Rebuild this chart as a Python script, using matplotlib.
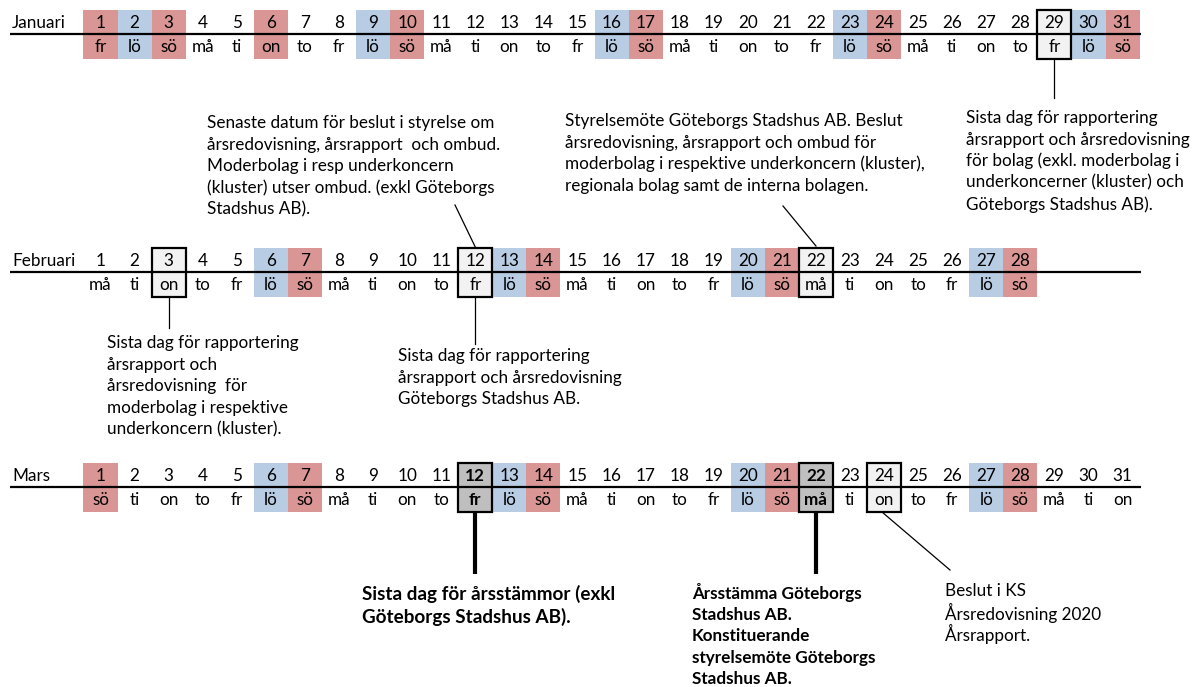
import matplotlib
matplotlib.use("Agg")
import matplotlib.pyplot as plt
from matplotlib.patches import Rectangle

plt.rcParams['font.family'] = ['Lato', 'DejaVu Sans']

# ---------------- data ----------------
months = ["Januari", "Februari", "Mars"]

jan_days = list(range(1, 32))
jan_weekdays = ["fr", "lö", "sö", "må", "ti", "on", "to", "fr", "lö", "sö", "må", "ti", "on", "to",
                "fr", "lö", "sö", "må", "ti", "on", "to", "fr", "lö", "sö", "må", "ti", "on", "to",
                "fr", "lö", "sö"]
jan_red = [1, 3, 6, 10, 17, 24, 31]
jan_blue = [2, 9, 16, 23, 30]
jan_box = [29]
jan_bold = []

feb_days = list(range(1, 29))
feb_weekdays = ["må", "ti", "on", "to", "fr", "lö", "sö", "må", "ti", "on", "to", "fr", "lö", "sö",
                "må", "ti", "on", "to", "fr", "lö", "sö", "må", "ti", "on", "to", "fr", "lö", "sö"]
feb_red = [7, 14, 21, 28]
feb_blue = [6, 13, 20, 27]
feb_box = [3, 12, 22]
feb_bold = []

mar_days = list(range(1, 32))
mar_weekdays = ["sö", "ti", "on", "to", "fr", "lö", "sö", "må", "ti", "on", "to", "fr", "lö", "sö",
                "må", "ti", "on", "to", "fr", "lö", "sö", "må", "ti", "on", "to", "fr", "lö", "sö",
                "må", "ti", "on"]
mar_red = [1, 7, 14, 21, 28]
mar_blue = [6, 13, 20, 27]
mar_box = [24]
mar_bold = [12, 22]

note_jan29 = ["Sista dag för rapportering", "årsrapport och årsredovisning",
              "för bolag (exkl. moderbolag i", "underkoncerner (kluster) och",
              "Göteborgs Stadshus AB)."]
note_feb12_top = ["Senaste datum för beslut i styrelse om", "årsredovisning, årsrapport  och ombud.",
                  "Moderbolag i resp underkoncern", "(kluster) utser ombud. (exkl Göteborgs",
                  "Stadshus AB)."]
note_feb22_top = ["Styrelsemöte Göteborgs Stadshus AB. Beslut", "årsredovisning, årsrapport och ombud för",
                  "moderbolag i respektive underkoncern (kluster),", "regionala bolag samt de interna bolagen."]
note_feb3 = ["Sista dag för rapportering", "årsrapport och", "årsredovisning  för",
             "moderbolag i respektive", "underkoncern (kluster)."]
note_feb12_bot = ["Sista dag för rapportering", "årsrapport och årsredovisning",
                  "Göteborgs Stadshus AB."]
note_mar12 = ["Sista dag för årsstämmor (exkl", "Göteborgs Stadshus AB)."]
note_mar22 = ["Årsstämma Göteborgs", "Stadshus AB.", "Konstituerande",
              "styrelsemöte Göteborgs", "Stadshus AB."]
note_mar24 = ["Beslut i KS", "Årsredovisning 2020", "Årsrapport."]

# ---------------- layout ----------------
W, H = 1198, 687
X0, DX = 100.5, 34.07          # pixel centre of day 1 and day pitch


def px(x):
    """pixel x -> day units"""
    return (x - X0) / DX + 1


RED = "#D99694"
BLUE = "#B8CCE4"
LIGHT = "#F2F2F2"
DARK = "#BFBFBF"
FS = 12.3

fig = plt.figure(figsize=(W / 100, H / 100), dpi=100)
ax = fig.add_axes([0, 0, 1, 1])
ax.set_xlim(px(0), px(W))
ax.set_ylim(H, 0)
ax.axis("off")

rows = [
    (months[0], 34, jan_days, jan_weekdays, jan_red, jan_blue, jan_box, jan_bold),
    (months[1], 272, feb_days, feb_weekdays, feb_red, feb_blue, feb_box, feb_bold),
    (months[2], 487, mar_days, mar_weekdays, mar_red, mar_blue, mar_box, mar_bold),
]

for name, ly, days, wds, reds, blues, boxes, bolds in rows:
    top, bot = ly - 24, ly + 25
    for d, wd in zip(days, wds):
        fc = None
        if d in reds:
            fc = RED
        elif d in blues:
            fc = BLUE
        elif d in boxes:
            fc = LIGHT
        elif d in bolds:
            fc = DARK
        if fc:
            ax.add_patch(Rectangle((d - 0.5, top), 1, bot - top, facecolor=fc,
                                   edgecolor="none", zorder=1))
        weight = "bold" if d in bolds else "normal"
        ax.text(d, ly - 11, str(d), ha="center", va="center", fontsize=FS,
                color="black", weight=weight, zorder=4)
        ax.text(d, ly + 13, wd, ha="center", va="center", fontsize=FS,
                color="black", weight=weight, zorder=4)
    ax.plot([px(10), px(1141)], [ly, ly], color="black", lw=1.6, zorder=3,
            solid_capstyle="butt")
    for d in boxes + bolds:
        ax.add_patch(Rectangle((d - 0.5, top), 1, bot - top, facecolor="none",
                               edgecolor="black", lw=1.6, zorder=5))
    ax.text(px(12), ly - 11, name, ha="left", va="center", fontsize=FS, zorder=4)


def note(lines, x, y0, pitch=21.6, bold=False, fs=FS):
    for i, t in enumerate(lines):
        ax.text(px(x), y0 + i * pitch, t, ha="left", va="center", fontsize=fs,
                weight="bold" if bold else "normal")


# connectors
ax.plot([29, 29], [60, 98], color="black", lw=0.9)
ax.plot([px(455), 12], [205, 247], color="black", lw=0.9)
ax.plot([px(783), 22], [206, 246], color="black", lw=0.9)
ax.plot([3, 3], [297, 328], color="black", lw=0.9)
ax.plot([12, 12], [297, 344], color="black", lw=0.9)
ax.plot([12, 12], [512, 574], color="black", lw=3.0, solid_capstyle="butt")
ax.plot([22, 22], [512, 574], color="black", lw=3.0, solid_capstyle="butt")
ax.plot([px(882), px(950)], [512, 570], color="black", lw=0.9)

note(note_jan29, 966, 118)
note(note_feb12_top, 207, 123)
note(note_feb22_top, 565, 121)
note(note_feb3, 107, 343)
note(note_feb12_bot, 398, 356)
note(note_mar12, 362, 594, pitch=22.5, bold=True, fs=13.6)
note(note_mar22, 692, 593, bold=True)
note(note_mar24, 945, 591)

fig.savefig("out.png", dpi=100)
